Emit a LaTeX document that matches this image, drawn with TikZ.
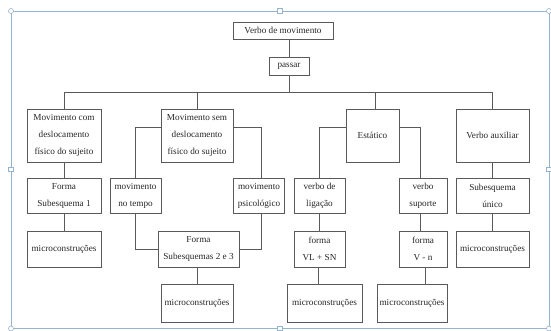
\documentclass[tikz,border=0pt]{standalone}
\usepackage{fontspec}
\setmainfont{Liberation Serif}
\usepackage{tikz}
\usetikzlibrary{positioning}
\tikzstyle{blk} = [draw, rectangle, inner sep=0pt, align=center,
font=\fontsize{9.2}{17}\selectfont]
\tikzstyle{line} = [draw, line width=0.6pt, color=black!65]
\definecolor{hdl}{RGB}{150,180,205}
\tikzstyle{frm} = [draw=hdl, line width=0.7pt]

\begin{document}
\begin{tikzpicture}[x=1pt, y=-1pt,
	blk/.append style={line width=0.7pt, draw=black!65, text=black!85},
	big/.style={blk, minimum height=53pt},
	mid/.style={blk, minimum height=35pt},
	low/.style={blk, minimum height=36pt},
	bot/.style={blk, minimum height=38pt},
	hcirc/.style={draw=hdl, fill=white, line width=0.6pt, circle, inner sep=0pt, minimum size=5pt},
	hsq/.style={draw=hdl, fill=white, line width=0.6pt, rectangle, inner sep=0pt, minimum size=4.5pt}]
	\useasboundingbox (0,0) rectangle (551,330);
	%% Frame
	\draw [frm] (11,11) rectangle (549,328.5);
	\node [hcirc] (c1) at (11,11) {};
	\node [hcirc] (c2) at (549,11) {};
	\node [hcirc] (c3) at (11,328.5) {};
	\node [hcirc] (c4) at (549,328.5) {};
	\node [hsq] (s1) at (280,11) {};
	\node [hsq] (s2) at (11,169.5) {};
	\node [hsq] (s3) at (549,169.5) {};
	\node [hsq] (s4) at (280,328.5) {};
	%% Top
	\node [blk, minimum width=100pt, minimum height=17pt] (verbo) at (283,30.5) {Verbo de movimento};
	\node [blk, minimum width=40pt, minimum height=18pt] (passar) at (289,66) {passar};
	\coordinate (bus) at (0,92);
	\coordinate (side) at (0,127);
	%% Level 2
	\node [big, minimum width=74pt] (mcom) at (64,135.5) {Movimento com\\deslocamento\\físico do sujeito};
	\node [big, minimum width=72pt] (msem) at (197,135.5) {Movimento sem\\deslocamento\\físico do sujeito};
	\node [big, minimum width=53pt] (estat) at (372.5,135.5) {Estático};
	\node [big, minimum width=73pt] (vaux) at (492.5,135.5) {Verbo auxiliar};
	%% Level 3
	\node [mid, minimum width=74pt] (fs1) at (64,195.5) {Forma\\Subesquema 1};
	\node [mid, minimum width=51pt] (mtempo) at (135.5,195.5) {movimento\\no tempo};
	\node [mid, minimum width=51pt] (mpsic) at (259,195.5) {movimento\\psicológico};
	\node [mid, minimum width=51pt] (vlig) at (319.5,195.5) {verbo de\\ligação};
	\node [mid, minimum width=48pt] (vsup) at (423,195.5) {verbo\\suporte};
	\node [mid, minimum width=73pt] (subu) at (492.5,195.5) {Subesquema\\único};
	%% Level 4
	\node [low, minimum width=74pt] (micro1) at (64,249) {microconstruções};
	\node [low, minimum width=81pt] (fs23) at (198.5,249) {Forma\\Subesquemas 2 e 3};
	\node [low, minimum width=51pt] (fvl) at (319.5,249) {forma\\VL + SN};
	\node [low, minimum width=48pt] (fvn) at (423,249) {forma\\V - n};
	\node [low, minimum width=73pt] (micro4) at (492.5,249) {microconstruções};
	%% Level 5
	\node [bot, minimum width=72pt] (micro2) at (197,303) {microconstruções};
	\node [bot, minimum width=75pt] (micro3) at (324.5,303) {microconstruções};
	\node [bot, minimum width=70pt] (micro5) at (412,303) {microconstruções};
	%% Links
	\path [line] (passar.north) -- (passar.north |- verbo.south);
	\path [line] (passar.south) -- (passar.south |- bus);
	\path [line] (mcom.north |- bus) -- (vaux.north |- bus);
	\path [line] (mcom.north) -- (mcom.north |- bus);
	\path [line] (msem.north) -- (msem.north |- bus);
	\path [line] ([xshift=2.5pt]estat.north) -- ([xshift=2.5pt]estat.north |- bus);
	\path [line] (vaux.north) -- (vaux.north |- bus);
	\path [line] (msem.west |- side) -| ([xshift=-0.5pt]mtempo.north);
	\path [line] (msem.east |- side) -| ([xshift=2.5pt]mpsic.north);
	\path [line] (estat.west |- side) -| (vlig.north);
	\path [line] (estat.east |- side) -| ([xshift=-3pt]vsup.north);
	\path [line] (mcom) -- (fs1);
	\path [line] (fs1) -- (micro1);
	\path [line] ([xshift=-0.5pt]mtempo.south) |- (fs23.west);
	\path [line] ([xshift=2.5pt]mpsic.south) |- (fs23.east);
	\path [line] (micro2.north) -- (micro2.north |- fs23.south);
	\path [line] (vlig) -- (fvl);
	\path [line] ([xshift=-1pt]fvl.south) -- ([xshift=-1pt]fvl.south |- micro3.north);
	\path [line] ([xshift=-3pt]vsup.south) -- ([xshift=-3pt]fvn.north);
	\path [line] ([xshift=2pt]fvn.south) -- ([xshift=2pt]fvn.south |- micro5.north);
	\path [line] (vaux) -- (subu);
	\path [line] (subu) -- (micro4);
\end{tikzpicture}
\end{document}
